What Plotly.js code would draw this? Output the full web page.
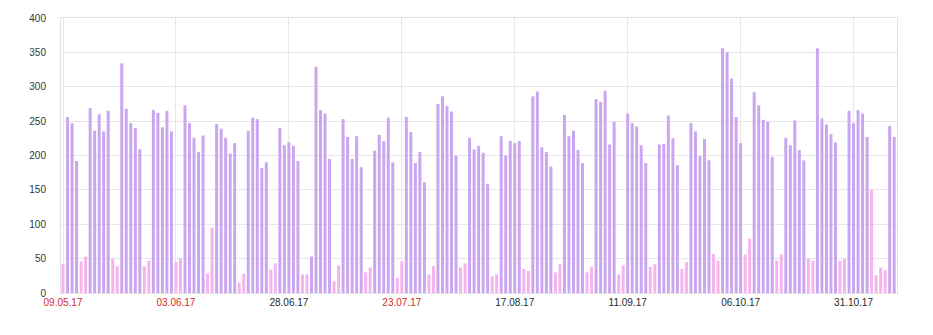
<!DOCTYPE html>
<html>
<head>
<meta charset="utf-8">
<script src="https://cdn.plot.ly/plotly-3.0.1.min.js"></script>
<style>
  html, body { margin: 0; padding: 0; background: #ffffff; }
  #chart { width: 933px; height: 335px; }
</style>
</head>
<body>
<div id="chart"></div>
<script>
// Daily values, 09.05.2017 .. 09.11.2017
const startDate = '2017-05-09';
const values = [
  42, 256, 247, 192, 46, 53, 269, 236, 260, 235, 265, 50, 39, 334, 268, 247, 240, 209, 39, 47,
  266, 262, 241, 265, 235, 45, 51, 273, 247, 226, 205, 229, 28, 95, 246, 239, 226, 203, 218, 15,
  28, 236, 255, 253, 182, 190, 34, 43, 240, 215, 219, 214, 192, 27, 27, 53, 329, 266, 261, 195,
  17, 40, 253, 227, 195, 228, 183, 30, 37, 207, 230, 221, 255, 190, 22, 46, 256, 234, 189, 205,
  161, 27, 39, 275, 286, 272, 264, 200, 37, 43, 226, 209, 214, 204, 159, 24, 27, 228, 200, 221,
  218, 221, 35, 32, 286, 293, 212, 205, 184, 30, 42, 259, 228, 236, 208, 189, 30, 38, 282, 278,
  294, 216, 249, 27, 40, 261, 247, 242, 215, 189, 38, 42, 216, 217, 258, 225, 186, 35, 45, 247,
  235, 199, 224, 193, 57, 47, 356, 350, 312, 256, 218, 56, 79, 292, 273, 252, 249, 198, 47, 56,
  226, 215, 251, 208, 193, 50, 47, 356, 254, 245, 231, 219, 47, 50, 265, 247, 266, 261, 227, 150,
  26, 37, 33, 243, 227
];
// Non-weekend days off (drawn like weekends)
const holidays = ['2017-05-09', '2017-11-06', '2017-11-07'];
// X tick labels
const tickDates = ['2017-05-09', '2017-06-03', '2017-06-28', '2017-07-23', '2017-08-17', '2017-09-11', '2017-10-06', '2017-10-31'];
const tickLabels = ['09.05.17', '03.06.17', '28.06.17', '23.07.17', '17.08.17', '11.09.17', '06.10.17', '31.10.17'];
const redTicks = ['09.05.17', '03.06.17', '23.07.17'];

const WORK = '#c9a6ef';
const OFF = '#f6b3ec';

function iso(d) {
  const m = String(d.getUTCMonth() + 1).padStart(2, '0');
  const day = String(d.getUTCDate()).padStart(2, '0');
  return d.getUTCFullYear() + '-' + m + '-' + day;
}
const base = new Date(startDate + 'T00:00:00Z');
const dates = values.map((_, i) => iso(new Date(base.getTime() + i * 86400000)));
const colors = dates.map(ds => {
  const wd = new Date(ds + 'T00:00:00Z').getUTCDay();
  return (wd === 0 || wd === 6 || holidays.includes(ds)) ? OFF : WORK;
});

const lastDate = dates[dates.length - 1];
const DAY = 86400000;
const rangeStart = new Date(base.getTime() - 0.45 * DAY).toISOString().replace('T', ' ').slice(0, 19);
const rangeEnd = new Date(new Date(lastDate + 'T00:00:00Z').getTime() + 0.62 * DAY).toISOString().replace('T', ' ').slice(0, 19);

const ticktext = tickLabels.map(t => redTicks.includes(t)
  ? '<span style="color:#d42a2a">' + t + '</span>'
  : '<span style="color:#1f2b2b">' + t + '</span>');

const trace = {
  type: 'bar',
  x: dates,
  y: values,
  marker: { color: colors, line: { width: 0 } },
  hoverinfo: 'x+y'
};

const layout = {
  width: 933,
  height: 335,
  margin: { l: 61, r: 36, t: 18, b: 42, pad: 0 },
  paper_bgcolor: '#ffffff',
  plot_bgcolor: '#ffffff',
  bargap: 0.34,
  showlegend: false,
  font: { family: 'Liberation Sans, Arial, sans-serif', size: 10, color: '#333333' },
  xaxis: {
    type: 'date',
    range: [rangeStart, rangeEnd],
    tickmode: 'array',
    tickvals: tickDates,
    ticktext: ticktext,
    showgrid: true,
    gridcolor: '#e7e7e7',
    gridwidth: 1,
    showline: true,
    linecolor: '#e2e2e2',
    linewidth: 1,
    mirror: true,
    ticks: '',
    zeroline: false,
    tickfont: { size: 10 },
    fixedrange: true
  },
  yaxis: {
    range: [0, 400],
    dtick: 50,
    tick0: 0,
    showgrid: true,
    gridcolor: '#e7e7e7',
    gridwidth: 1,
    showline: true,
    linecolor: '#e2e2e2',
    linewidth: 1,
    mirror: true,
    zeroline: false,
    ticks: '',
    ticklabelstandoff: 12,
    tickfont: { size: 10, color: '#2e3a3a' },
    fixedrange: true
  }
};

Plotly.newPlot('chart', [trace], layout, { displayModeBar: false, staticPlot: true });
</script>
</body>
</html>
